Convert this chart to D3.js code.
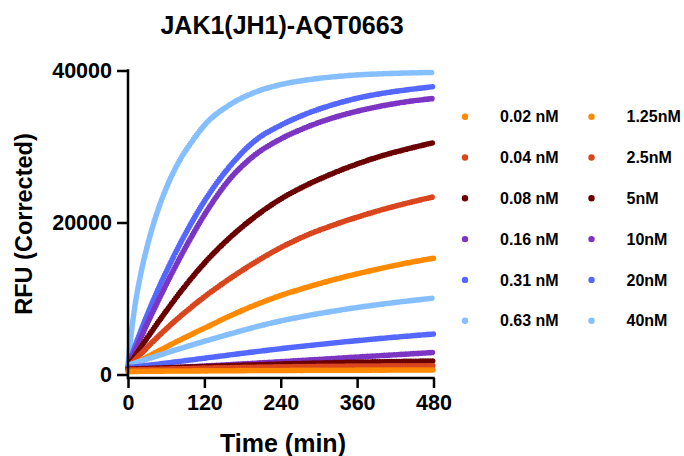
<!DOCTYPE html>
<html>
<head>
<meta charset="utf-8">
<script src="https://cdn.jsdelivr.net/npm/d3@7"></script>
<style>
  html, body { margin: 0; padding: 0; background: #fff; }
  svg { display: block; }
  text { font-family: "Liberation Sans", Arial, Helvetica, sans-serif; font-weight: bold; fill: #000; }
</style>
</head>
<body>
<svg id="chart" width="684" height="456"></svg>
<script>
// ---- data ----
const times = [0, 5, 10, 20, 30, 40, 60, 80, 100, 120, 160, 200, 240, 280, 320, 360, 400, 440, 480];

const s002 = [400, 405, 410, 420, 430, 440, 450, 460, 470, 480, 500, 520, 530, 550, 560, 570, 580, 590, 600];
const s004 = [600, 610, 620, 640, 660, 680, 720, 760, 800, 840, 900, 960, 1010, 1050, 1080, 1110, 1130, 1150, 1160];
const s008 = [700, 710, 720, 760, 790, 820, 880, 940, 1000, 1060, 1170, 1280, 1380, 1470, 1550, 1620, 1680, 1730, 1780];
const s016 = [700, 715, 730, 760, 790, 820, 890, 960, 1040, 1120, 1300, 1490, 1690, 1890, 2090, 2300, 2500, 2700, 2900];
const s031 = [900, 950, 1000, 1100, 1200, 1300, 1510, 1720, 1930, 2150, 2580, 3000, 3400, 3780, 4130, 4460, 4770, 5060, 5330];
const s063 = [1200, 1340, 1480, 1760, 2030, 2300, 2840, 3360, 3870, 4370, 5330, 6250, 7050, 7720, 8300, 8820, 9270, 9680, 10050];
const s125 = [900, 1150, 1400, 1850, 2300, 2750, 3620, 4480, 5300, 6100, 7700, 9150, 10400, 11450, 12400, 13250, 14000, 14700, 15300];
const s25  = [900, 1350, 1800, 2700, 3550, 4400, 6000, 7500, 8900, 10220, 12620, 14780, 16700, 18300, 19580, 20700, 21700, 22580, 23380];
const s5   = [1000, 1650, 2300, 3550, 4800, 6000, 8350, 10600, 12700, 14650, 18000, 20800, 23100, 24900, 26400, 27700, 28800, 29700, 30500];
const s10  = [1000, 2000, 2900, 4800, 6650, 8400, 11840, 15100, 18160, 21000, 25720, 28920, 31000, 32520, 33720, 34640, 35360, 35920, 36320];
const s20  = [1100, 2350, 3500, 5700, 7800, 9800, 13500, 16900, 20000, 22800, 27400, 30800, 32800, 34300, 35450, 36350, 37000, 37480, 37870];
const s40  = [1300, 5300, 8500, 13200, 16800, 19800, 24500, 28000, 30600, 32800, 35500, 37150, 38150, 38750, 39150, 39420, 39580, 39680, 39750];

const seriesLabels = ["0.02 nM", "0.04 nM", "0.08 nM", "0.16 nM", "0.31 nM", "0.63 nM",
                      "1.25nM", "2.5nM", "5nM", "10nM", "20nM", "40nM"];
const seriesValues = [s002, s004, s008, s016, s031, s063, s125, s25, s5, s10, s20, s40];
const palette = ["#FF8A00", "#D9461E", "#6A0000", "#7B35C2", "#5468FF", "#86BFFF"];
const seriesColors = seriesLabels.map((d, i) => palette[i % 6]);

const xTicks = [0, 120, 240, 360, 480];
const yTicks = [0, 20000, 40000];
const titleText = "JAK1(JH1)-AQT0663";
const xLabel = "Time (min)";
const yLabel = "RFU (Corrected)";

// ---- layout ----
const svg = d3.select("#chart");
const L = 128, R = 433.5, T = 70.5, B = 374.5, xAxisY = 378;

const x = d3.scaleLinear().domain([0, 480]).range([L, R]);
const y = d3.scaleLinear().domain([0, 40000]).range([B, T]);

// ---- series (drawn as dense dot bands) ----
const line = d3.line()
  .x((d, i) => x(times[i]))
  .y(d => y(d))
  .curve(d3.curveMonotoneX);

const order = d3.range(seriesValues.length).reverse();
svg.append("g").selectAll("path")
  .data(order)
  .join("path")
  .attr("d", i => line(seriesValues[i]))
  .attr("fill", "none")
  .attr("stroke", i => seriesColors[i])
  .attr("stroke-width", 5.6)
  .attr("stroke-linecap", "round")
  .attr("stroke-dasharray", "0,2.4");

// ---- axes ----
const yAxis = svg.append("g")
  .attr("transform", `translate(${L},0)`)
  .call(d3.axisLeft(y).tickValues(yTicks).tickSize(11).tickSizeOuter(0).tickPadding(5).tickFormat(d3.format("d")));
yAxis.select(".domain").remove();
yAxis.selectAll("line").attr("stroke", "#000").attr("stroke-width", 2.5);
yAxis.selectAll("text").style("font-size", "21.5px");

const xAxis = svg.append("g")
  .attr("transform", `translate(0,${xAxisY})`)
  .call(d3.axisBottom(x).tickValues(xTicks).tickSize(10).tickSizeOuter(0).tickPadding(7).tickFormat(d3.format("d")));
xAxis.select(".domain").remove();
xAxis.selectAll("line").attr("stroke", "#000").attr("stroke-width", 2.5);
xAxis.selectAll("text").style("font-size", "21.5px");

// axis lines
svg.append("line")
  .attr("x1", L).attr("x2", L)
  .attr("y1", y(40000) - 1.2).attr("y2", xAxisY + 1.2)
  .attr("stroke", "#000").attr("stroke-width", 2.5);
svg.append("line")
  .attr("x1", x(0) - 1.2).attr("x2", x(480) + 1.2)
  .attr("y1", xAxisY).attr("y2", xAxisY)
  .attr("stroke", "#000").attr("stroke-width", 2.5);

// ---- titles ----
svg.append("text")
  .attr("x", 282).attr("y", 34)
  .attr("text-anchor", "middle")
  .style("font-size", "25px")
  .text(titleText);

svg.append("text")
  .attr("x", 283).attr("y", 452)
  .attr("text-anchor", "middle")
  .style("font-size", "25px")
  .text(xLabel);

svg.append("text")
  .attr("transform", `translate(32,224) rotate(-90)`)
  .attr("text-anchor", "middle")
  .style("font-size", "23.5px")
  .text(yLabel);

// ---- legend ----
const legend = svg.append("g");
const legItems = legend.selectAll("g")
  .data(seriesLabels.map((d, i) => i))
  .join("g")
  .attr("transform", i => {
    const col = Math.floor(i / 6), row = i % 6;
    return `translate(${465 + col * 126.5},${116.7 + row * 40.8})`;
  });
legItems.append("circle")
  .attr("r", 3.2)
  .attr("fill", i => seriesColors[i]);
legItems.append("text")
  .attr("x", 35)
  .attr("dy", "0.36em")
  .style("font-size", "16px")
  .text(i => seriesLabels[i]);
</script>
</body>
</html>
